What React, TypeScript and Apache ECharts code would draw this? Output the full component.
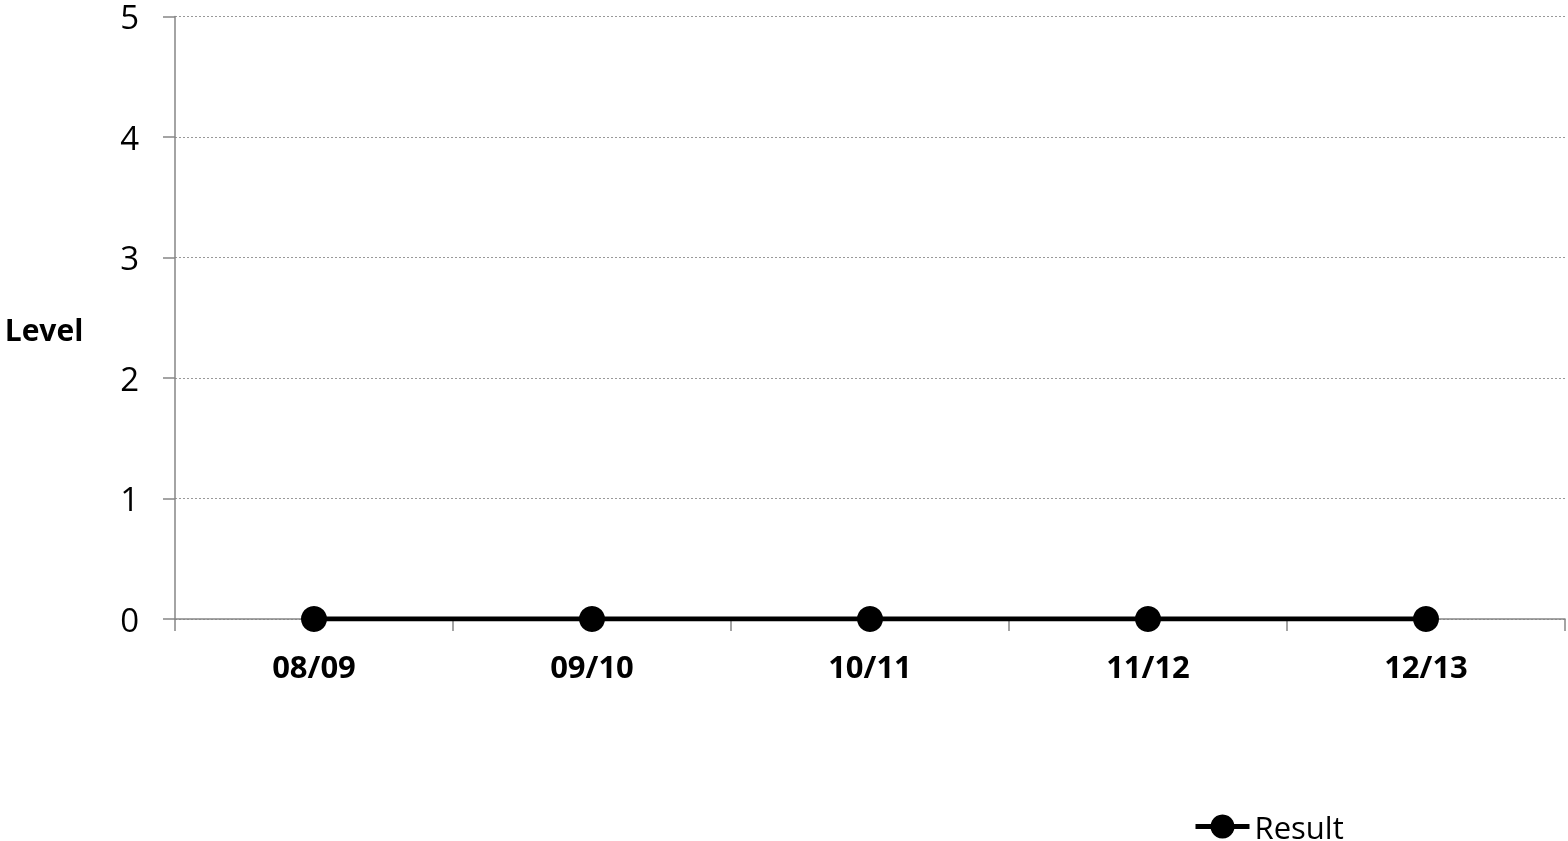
import React, { useEffect, useRef } from "react";
import * as echarts from "echarts";

const categories = ["08/09", "09/10", "10/11", "11/12", "12/13"];
const resultValues = [0, 0, 0, 0, 0];
const yTicks = { min: 0, max: 5, interval: 1 };
const yAxisTitle = "Level";

export default function App() {
  const ref = useRef<HTMLDivElement>(null);
  useEffect(() => {
    if (!ref.current) return;
    const chart = echarts.init(ref.current, undefined, { renderer: "svg" });
    const font = "'Open Sans', Lato, sans-serif";
    chart.setOption({
      animation: false,
      grid: { left: 175, right: 3, top: 15, bottom: 222, containLabel: false },
      graphic: [
        {
          type: "text",
          x: 44,
          y: 329,
          style: {
            text: yAxisTitle,
            fontFamily: font,
            fontSize: 30,
            fontWeight: "bold",
            fill: "#000",
            align: "center",
            verticalAlign: "middle",
          },
        },
      ],
      legend: {
        show: true,
        left: 1193,
        top: 811,
        padding: 0,
        itemWidth: 54,
        itemHeight: 30,
        itemGap: 4,
        lineStyle: { width: 5 },
        textStyle: { fontFamily: font, fontSize: 31, color: "#000", lineHeight: 24 },
        data: ["Result"],
      },
      xAxis: {
        type: "category",
        data: categories,
        boundaryGap: true,
        axisLine: { lineStyle: { color: "#868686", width: 1.5 } },
        axisTick: { show: true, length: 12, inside: false, alignWithLabel: false, lineStyle: { color: "#868686", width: 1.5 } },
        axisLabel: { margin: 31, fontFamily: font, fontSize: 31, fontWeight: "bold", color: "#000" },
        splitLine: { show: false },
      },
      yAxis: {
        type: "value",
        min: yTicks.min,
        max: yTicks.max,
        interval: yTicks.interval,
        axisLine: { show: true, lineStyle: { color: "#868686", width: 1.5 } },
        axisTick: { show: true, length: 12, lineStyle: { color: "#868686", width: 1.5 } },
        axisLabel: { margin: 36, fontFamily: font, fontSize: 33, color: "#000", lineHeight: 26 },
        splitLine: { show: true, lineStyle: { color: "#999", type: [2, 2], width: 1 } },
      },
      series: [
        {
          name: "Result",
          type: "line",
          data: resultValues,
          symbol: "circle",
          symbolSize: 26,
          lineStyle: { color: "#000", width: 5 },
          itemStyle: { color: "#000" },
        },
      ],
    });
    return () => chart.dispose();
  }, []);
  return <div ref={ref} style={{ position: "fixed", left: 0, top: 0, width: 1568, height: 841 }} />;
}
